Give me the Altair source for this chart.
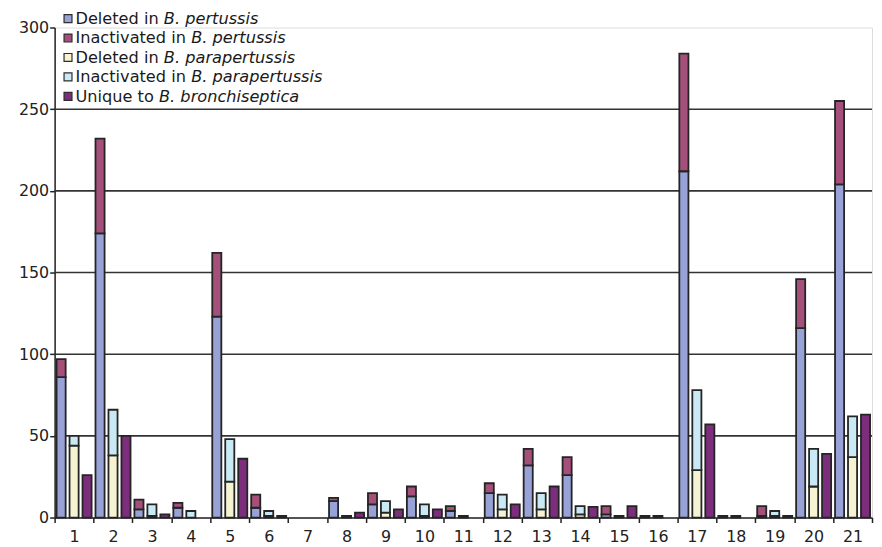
import altair as alt
import pandas as pd

cats = list(range(1, 22))
pert_del = [86, 174, 5, 6, 123, 6, 0, 10, 8, 13, 4, 15, 32, 26, 2, 1, 212, 0, 1, 116, 204]
pert_inact = [11, 58, 6, 3, 39, 8, 0, 2, 7, 6, 3, 6, 10, 11, 5, 0, 72, 1, 6, 30, 51]
para_del = [44, 38, 1, 0, 22, 1, 0, 1, 3, 1, 1, 5, 5, 2, 1, 1, 29, 1, 1, 19, 37]
para_inact = [6, 28, 7, 4, 26, 3, 0, 0, 7, 7, 0, 9, 10, 5, 0, 0, 49, 0, 3, 23, 25]
unique = [26, 50, 2, 0, 36, 1, 0, 3, 5, 5, 0, 8, 19, 6.5, 7, 0, 57, 0, 1, 39, 63]

series = ["Deleted in B. pertussis", "Inactivated in B. pertussis",
          "Deleted in B. parapertussis", "Inactivated in B. parapertussis",
          "Unique to B. bronchiseptica"]
legend_prefix = ["Deleted in ", "Inactivated in ", "Deleted in ", "Inactivated in ", "Unique to "]
legend_italic = ["B. pertussis", "B. pertussis", "B. parapertussis", "B. parapertussis", "B. bronchiseptica"]
colors = ["#98A2D6", "#A4507A", "#F5F3D1", "#C9EAF5", "#7C2E7C"]
groups = ["pertussis", "parapertussis", "bronchiseptica"]
grid_values = [50, 100, 150, 200, 250]

rows = []
spec = [(pert_del, 0, "pertussis", 0), (pert_inact, 1, "pertussis", 1),
        (para_del, 2, "parapertussis", 0), (para_inact, 3, "parapertussis", 1),
        (unique, 4, "bronchiseptica", 0)]
for vals, si, grp, order in spec:
    for c, v in zip(cats, vals):
        rows.append({"cat": c, "series": series[si], "grp": grp, "ord": order, "v": v})
df = pd.DataFrame(rows)

FONT = "DejaVu Sans"
W, H = 824, 494

grid = alt.Chart(pd.DataFrame({"g": grid_values})).mark_rule(
    color="#333333", strokeWidth=1.6
).encode(y=alt.Y("g:Q", scale=alt.Scale(domain=[0, 300])))

bars = alt.Chart(df).transform_filter("datum.v > 0").transform_stack(
    stack="v", groupby=["cat", "grp"], as_=["y0", "y1"],
    sort=[alt.SortField("ord", order="ascending")]
).mark_bar(stroke="#242424", strokeWidth=1.8).encode(
    x=alt.X("cat:O",
            scale=alt.Scale(domain=cats, paddingInner=0, paddingOuter=0),
            axis=alt.Axis(title=None, labelAngle=0, tickBand="extent",
                          labelFont=FONT, labelFontSize=16, labelColor="#222222",
                          domainColor="#222222", domainWidth=1.5,
                          tickColor="#222222", tickWidth=1.5, tickSize=5,
                          labelPadding=6, labelOverlap=False)),
    xOffset=alt.XOffset("grp:N", sort=groups,
                        scale=alt.Scale(domain=groups, paddingInner=0.3, paddingOuter=0.15)),
    y=alt.Y("y0:Q", scale=alt.Scale(domain=[0, 300], nice=False),
            axis=alt.Axis(title=None, values=[0, 50, 100, 150, 200, 250, 300],
                          grid=False, labelFont=FONT, labelFontSize=16,
                          labelColor="#222222", domainColor="#222222",
                          domainWidth=1.5, tickColor="#222222", tickWidth=1.5,
                          tickSize=5, labelPadding=1)),
    y2="y1:Q",
    color=alt.Color("series:N", scale=alt.Scale(domain=series, range=colors), legend=None),
)

# width of prefix text in DejaVu Sans units (per 1000 em)
dv = {" ": 318, "D": 770, "e": 615, "l": 278, "t": 392, "d": 635, "i": 278, "n": 634,
      "I": 295, "a": 613, "c": 550, "v": 592, "U": 732, "q": 635, "u": 634, "o": 612}

def text_width(s, size):
    return sum(dv.get(ch, 600) for ch in s) * size / 1000.0

FS = 16.3
legend_layers = []
base_y = -3.5
step = 19.6
for i in range(5):
    by = base_y + i * step
    one = alt.Data(values=[{"k": 1}])
    legend_layers.append(
        alt.Chart(one).mark_square(size=64, color=colors[i], opacity=1,
                                   stroke="#2e2e2e", strokeWidth=1.2).encode(
            x=alt.value(13.5), y=alt.value(by - 5.5))
    )
    legend_layers.append(
        alt.Chart(one).mark_text(align="left", baseline="alphabetic", font=FONT,
                                 fontSize=FS, color="#1a1a1a").encode(
            x=alt.value(21), y=alt.value(by), text=alt.value(legend_prefix[i]))
    )
    legend_layers.append(
        alt.Chart(one).mark_text(align="left", baseline="alphabetic", font=FONT,
                                 fontSize=FS, fontStyle="italic", color="#1a1a1a").encode(
            x=alt.value(21 + text_width(legend_prefix[i], FS)), y=alt.value(by),
            text=alt.value(legend_italic[i]))
    )

chart = alt.layer(grid, bars, *legend_layers).properties(
    width=W, height=H,
    autosize=alt.AutoSizeParams(type="none"),
    padding={"left": 47, "top": 17.5, "right": 2, "bottom": 25},
).configure_view(stroke=None).configure(background="white")

chart.save("out.html", embed_options={"renderer": "svg", "actions": False})
